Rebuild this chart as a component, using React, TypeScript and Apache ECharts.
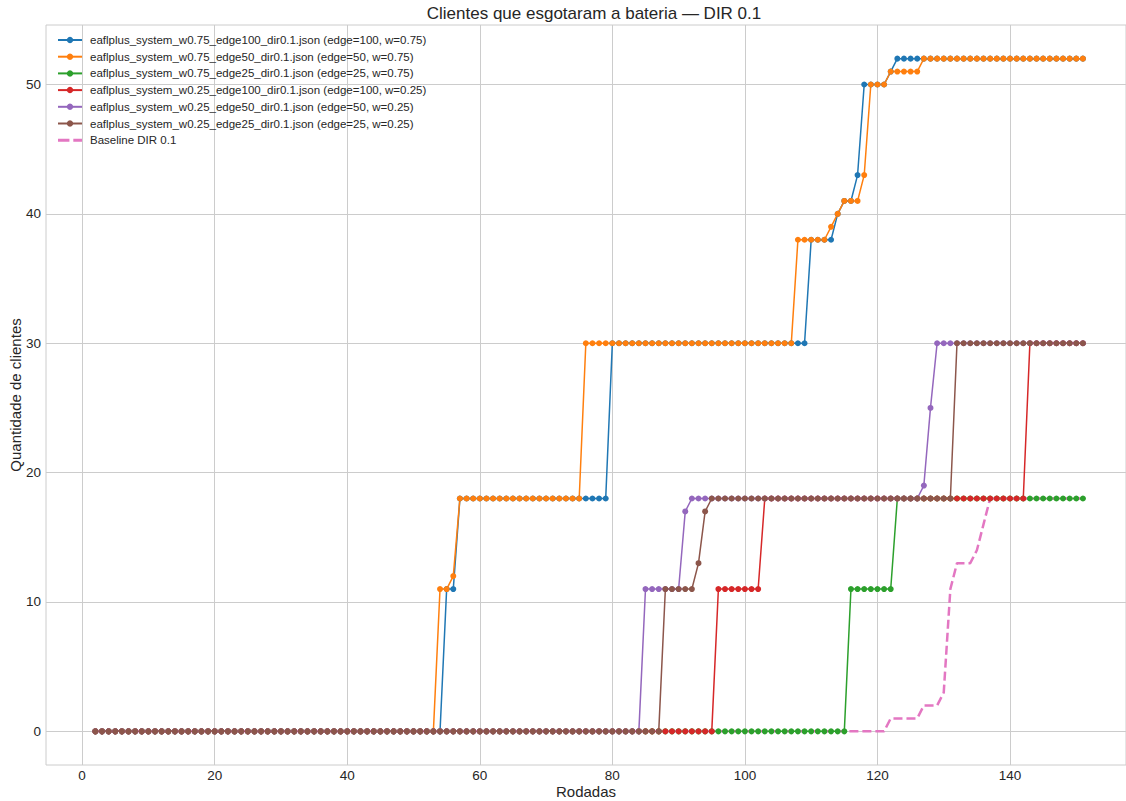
import React, { useEffect, useRef } from "react";
import * as echarts from "echarts";

const rounds: number[] = Array.from({ length: 150 }, (_, i) => i + 2);

const xTicks = [0, 20, 40, 60, 80, 100, 120, 140];
const yTicks = [0, 10, 20, 30, 40, 50];

const seriesNames = [
  "eaflplus_system_w0.75_edge100_dir0.1.json (edge=100, w=0.75)",
  "eaflplus_system_w0.75_edge50_dir0.1.json (edge=50, w=0.75)",
  "eaflplus_system_w0.75_edge25_dir0.1.json (edge=25, w=0.75)",
  "eaflplus_system_w0.25_edge100_dir0.1.json (edge=100, w=0.25)",
  "eaflplus_system_w0.25_edge50_dir0.1.json (edge=50, w=0.25)",
  "eaflplus_system_w0.25_edge25_dir0.1.json (edge=25, w=0.25)",
  "Baseline DIR 0.1",
];

const colors = ["#1f77b4", "#ff7f0e", "#2ca02c", "#d62728", "#9467bd", "#8c564b", "#e377c2"];

// x = 2 .. 151
const w75e100 = [
  0,0,0,0,0,0,0,0,0,0, // 2-11
  0,0,0,0,0,0,0,0,0,0, // 12-21
  0,0,0,0,0,0,0,0,0,0, // 22-31
  0,0,0,0,0,0,0,0,0,0, // 32-41
  0,0,0,0,0,0,0,0,0,0, // 42-51
  0,0,0, // 52-54
  11,11, // 55-56
  18,18,18,18,18,18,18,18,18,18, // 57-66
  18,18,18,18,18,18,18,18,18,18, // 67-76
  18,18,18, // 77-79
  30,30,30,30,30,30,30,30,30,30, // 80-89
  30,30,30,30,30,30,30,30,30,30, // 90-99
  30,30,30,30,30,30,30,30,30,30, // 100-109
  38,38,38,38, // 110-113
  40,41,41,43, // 114-117
  50,50,50,50, // 118-121
  51, // 122
  52,52,52,52,52,52,52,52,52,52, // 123-132
  52,52,52,52,52,52,52,52,52,52, // 133-142
  52,52,52,52,52,52,52,52,52, // 143-151
];

const w75e50 = [
  0,0,0,0,0,0,0,0,0,0, // 2-11
  0,0,0,0,0,0,0,0,0,0, // 12-21
  0,0,0,0,0,0,0,0,0,0, // 22-31
  0,0,0,0,0,0,0,0,0,0, // 32-41
  0,0,0,0,0,0,0,0,0,0, // 42-51
  0,0, // 52-53
  11,11, // 54-55
  12, // 56
  18,18,18,18,18,18,18,18,18,18, // 57-66
  18,18,18,18,18,18,18,18,18, // 67-75
  30,30,30,30,30,30,30,30,30,30, // 76-85
  30,30,30,30,30,30,30,30,30,30, // 86-95
  30,30,30,30,30,30,30,30,30,30, // 96-105
  30,30, // 106-107
  38,38,38,38,38, // 108-112
  39,40, // 113-114
  41,41,41, // 115-117
  43, // 118
  50,50,50, // 119-121
  51,51,51,51,51, // 122-126
  52,52,52,52,52,52,52,52,52,52, // 127-136
  52,52,52,52,52,52,52,52,52,52, // 137-146
  52,52,52,52,52, // 147-151
];

const w75e25 = [
  0,0,0,0,0,0,0,0,0,0, // 2-11
  0,0,0,0,0,0,0,0,0,0, // 12-21
  0,0,0,0,0,0,0,0,0,0, // 22-31
  0,0,0,0,0,0,0,0,0,0, // 32-41
  0,0,0,0,0,0,0,0,0,0, // 42-51
  0,0,0,0,0,0,0,0,0,0, // 52-61
  0,0,0,0,0,0,0,0,0,0, // 62-71
  0,0,0,0,0,0,0,0,0,0, // 72-81
  0,0,0,0,0,0,0,0,0,0, // 82-91
  0,0,0,0,0,0,0,0,0,0, // 92-101
  0,0,0,0,0,0,0,0,0,0, // 102-111
  0,0,0,0, // 112-115
  11,11,11,11,11,11,11, // 116-122
  18,18,18,18,18,18,18,18,18,18, // 123-132
  18,18,18,18,18,18,18,18,18,18, // 133-142
  18,18,18,18,18,18,18,18,18, // 143-151
];

const w25e100 = [
  0,0,0,0,0,0,0,0,0,0, // 2-11
  0,0,0,0,0,0,0,0,0,0, // 12-21
  0,0,0,0,0,0,0,0,0,0, // 22-31
  0,0,0,0,0,0,0,0,0,0, // 32-41
  0,0,0,0,0,0,0,0,0,0, // 42-51
  0,0,0,0,0,0,0,0,0,0, // 52-61
  0,0,0,0,0,0,0,0,0,0, // 62-71
  0,0,0,0,0,0,0,0,0,0, // 72-81
  0,0,0,0,0,0,0,0,0,0, // 82-91
  0,0,0,0, // 92-95
  11,11,11,11,11,11,11, // 96-102
  18,18,18,18,18,18,18,18,18,18, // 103-112
  18,18,18,18,18,18,18,18,18,18, // 113-122
  18,18,18,18,18,18,18,18,18,18, // 123-132
  18,18,18,18,18,18,18,18,18,18, // 133-142
  30,30,30,30,30,30,30,30,30, // 143-151
];

const w25e50 = [
  0,0,0,0,0,0,0,0,0,0, // 2-11
  0,0,0,0,0,0,0,0,0,0, // 12-21
  0,0,0,0,0,0,0,0,0,0, // 22-31
  0,0,0,0,0,0,0,0,0,0, // 32-41
  0,0,0,0,0,0,0,0,0,0, // 42-51
  0,0,0,0,0,0,0,0,0,0, // 52-61
  0,0,0,0,0,0,0,0,0,0, // 62-71
  0,0,0,0,0,0,0,0,0,0, // 72-81
  0,0,0, // 82-84
  11,11,11,11,11,11, // 85-90
  17, // 91
  18,18,18,18,18,18,18,18,18,18, // 92-101
  18,18,18,18,18,18,18,18,18,18, // 102-111
  18,18,18,18,18,18,18,18,18,18, // 112-121
  18,18,18,18,18, // 122-126
  19,25, // 127-128
  30,30,30,30,30,30,30,30,30,30, // 129-138
  30,30,30,30,30,30,30,30,30,30, // 139-148
  30,30,30, // 149-151
];

const w25e25 = [
  0,0,0,0,0,0,0,0,0,0, // 2-11
  0,0,0,0,0,0,0,0,0,0, // 12-21
  0,0,0,0,0,0,0,0,0,0, // 22-31
  0,0,0,0,0,0,0,0,0,0, // 32-41
  0,0,0,0,0,0,0,0,0,0, // 42-51
  0,0,0,0,0,0,0,0,0,0, // 52-61
  0,0,0,0,0,0,0,0,0,0, // 62-71
  0,0,0,0,0,0,0,0,0,0, // 72-81
  0,0,0,0,0,0, // 82-87
  11,11,11,11,11, // 88-92
  13,17, // 93-94
  18,18,18,18,18,18,18,18,18,18, // 95-104
  18,18,18,18,18,18,18,18,18,18, // 105-114
  18,18,18,18,18,18,18,18,18,18, // 115-124
  18,18,18,18,18,18,18, // 125-131
  30,30,30,30,30,30,30,30,30,30, // 132-141
  30,30,30,30,30,30,30,30,30,30, // 142-151
];

const baseline = [
  0,0,0,0,0,0,0,0,0,0, // 2-11
  0,0,0,0,0,0,0,0,0,0, // 12-21
  0,0,0,0,0,0,0,0,0,0, // 22-31
  0,0,0,0,0,0,0,0,0,0, // 32-41
  0,0,0,0,0,0,0,0,0,0, // 42-51
  0,0,0,0,0,0,0,0,0,0, // 52-61
  0,0,0,0,0,0,0,0,0,0, // 62-71
  0,0,0,0,0,0,0,0,0,0, // 72-81
  0,0,0,0,0,0,0,0,0,0, // 82-91
  0,0,0,0,0,0,0,0,0,0, // 92-101
  0,0,0,0,0,0,0,0,0,0, // 102-111
  0,0,0,0,0,0,0,0,0,0, // 112-121
  1,1,1,1,1, // 122-126
  2,2,2, // 127-129
  3,11, // 130-131
  13,13,13, // 132-134
  14,16, // 135-136
  18,18,18,18,18,18,18,18,18,18, // 137-146
  18,18,18,18,18, // 147-151
];

const allValues = [w75e100, w75e50, w75e25, w25e100, w25e50, w25e25, baseline];

const FONT = "'Liberation Sans', Arial, sans-serif";
const TEXT = "#262626";
const GRID = "#cccccc";
const DASH_ICON = "path://M0,0h10v2.6h-10z M13.4,0h7.6v2.6h-7.6z";

export default function App() {
  const ref = useRef<HTMLDivElement>(null);
  useEffect(() => {
    document.body.style.margin = "0";
    const chart = echarts.init(ref.current!, null, { renderer: "svg" });
    const series: any[] = allValues.map((vals, i) => {
      const isBase = i === 6;
      return {
        name: seriesNames[i],
        type: "line",
        data: rounds.map((r, k) => [r, vals[k]]),
        showSymbol: !isBase,
        symbol: "circle",
        symbolSize: 6,
        color: colors[i],
        itemStyle: { color: colors[i] },
        lineStyle: isBase
          ? { width: 2.5, type: [9, 4], color: colors[i] }
          : { width: 1.5, color: colors[i] },
        emphasis: { disabled: true },
      };
    });
    chart.setOption({
      animation: false,
      textStyle: { fontFamily: FONT },
      title: {
        text: "Clientes que esgotaram a bateria — DIR 0.1",
        left: 589,
        textAlign: "center",
        top: 0,
        textStyle: { fontFamily: FONT, fontSize: 17, fontWeight: "normal", color: TEXT },
      },
      legend: {
        orient: "vertical",
        left: 57,
        top: 34,
        padding: 0,
        itemWidth: 24,
        itemHeight: 8,
        itemGap: 4.7,
        data: seriesNames.map((n, i) => (i === 6 ? { name: n, icon: DASH_ICON } : { name: n })),
        textStyle: { fontFamily: FONT, fontSize: 11.5, lineHeight: 12, color: TEXT, padding: [0, 0, 0, 3] },
      },
      grid: {
        left: 46,
        right: 0,
        top: 25,
        bottom: 36,
        show: true,
        borderColor: GRID,
        borderWidth: 1,
        containLabel: false,
        outerBoundsMode: "none",
      },
      xAxis: {
        type: "value",
        min: -5.45,
        max: 157.5,
        name: "Rodadas",
        nameLocation: "middle",
        nameGap: 19,
        nameMoveOverlap: false,
        nameTextStyle: { fontFamily: FONT, fontSize: 15, color: TEXT },
        axisLine: { show: false },
        axisTick: { show: false, customValues: xTicks },
        axisLabel: { customValues: xTicks, fontFamily: FONT, fontSize: 13.5, color: TEXT, margin: 3 },
        splitLine: { show: true, lineStyle: { color: GRID, width: 1 } },
      },
      yAxis: {
        type: "value",
        min: -2.6,
        max: 54.6,
        name: "Quantidade de clientes",
        nameLocation: "middle",
        nameGap: 23.5,
        nameMoveOverlap: false,
        nameTextStyle: { fontFamily: FONT, fontSize: 15, color: TEXT },
        axisLine: { show: false },
        axisTick: { show: false, customValues: yTicks },
        axisLabel: { customValues: yTicks, fontFamily: FONT, fontSize: 13.5, color: TEXT, margin: 5 },
        splitLine: { show: true, lineStyle: { color: GRID, width: 1 } },
      },
      series,
    });
    return () => chart.dispose();
  }, []);
  return <div ref={ref} style={{ width: 1126, height: 801 }} />;
}
